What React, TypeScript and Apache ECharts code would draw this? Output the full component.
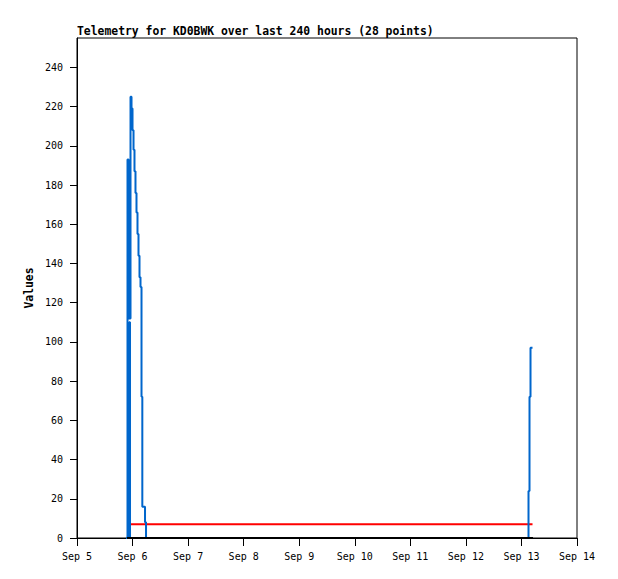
import React, { useEffect, useRef } from "react";
import * as echarts from "echarts";

// Telemetry channel (blue) — timestamps "MM-DD HH:MM" and values
const blueTimes = [
  "09-05 21:10", "09-05 21:49", "09-05 22:15", "09-05 23:07", "09-05 23:33",
  "09-05 23:59", "09-06 00:25", "09-06 00:50", "09-06 01:16", "09-06 01:42",
  "09-06 02:08", "09-06 02:34", "09-06 03:00", "09-06 03:26", "09-06 03:52",
  "09-06 04:13", "09-06 05:23", "09-06 05:49", "09-13 03:03", "09-13 03:29",
  "09-13 03:55", "09-13 04:47",
];
const blueValues = [
  0, 193, 112, 225, 219, 208, 198, 187, 176, 166, 155, 144, 133, 128, 72, 16, 8, 0,
  24, 72, 97, 97,
];

// Second blue channel (short burst)
const blue2Times = ["09-05 22:02", "09-05 22:28", "09-05 22:54"];
const blue2Values = [0, 110, 0];

// Red channel
const redTimes = ["09-05 22:41", "09-13 04:47"];
const redValues = [7, 7];

// Black channel
const blackTimes = ["09-05 21:36", "09-13 05:00"];
const blackValues = [0, 0];

const yTicks = [0, 20, 40, 60, 80, 100, 120, 140, 160, 180, 200, 220, 240];

const YEAR = 2023;
function toMs(s: string): number {
  const [md, hm] = s.split(" ");
  const [mo, d] = md.split("-").map(Number);
  const [h, m] = hm.split(":").map(Number);
  return new Date(YEAR, mo - 1, d, h, m).getTime();
}
function pairs(times: string[], values: number[]) {
  return times.map((t, i) => [toMs(t), values[i]]);
}

const MONO = "'DejaVu Sans Mono', monospace";

export default function App() {
  const ref = useRef<HTMLDivElement>(null);
  useEffect(() => {
    if (!ref.current) return;
    const chart = echarts.init(ref.current, undefined, { renderer: "svg" });
    const xMin = new Date(YEAR, 8, 5).getTime();
    const xMax = new Date(YEAR, 8, 14).getTime();
    chart.setOption({
      animation: false,
      backgroundColor: "#fff",
      title: {
        text: "Telemetry for KD0BWK over last 240 hours (28 points)",
        left: 77,
        top: 25,
        padding: 0,
        textStyle: { fontFamily: MONO, fontSize: 11.4, fontWeight: "bold", color: "#000" },
      },
      grid: {
        left: 77,
        right: 41,
        top: 38,
        bottom: 41,
        show: true,
        borderColor: "#000",
        borderWidth: 1,
        backgroundColor: "transparent",
      },
      xAxis: {
        type: "value",
        min: xMin,
        max: xMax,
        interval: 86400000,
        axisLine: { show: true, onZero: false, lineStyle: { color: "#000", width: 1 } },
        axisTick: { show: true, length: 8, lineStyle: { color: "#000" } },
        splitLine: { show: false },
        axisLabel: {
          margin: 13,
          fontFamily: MONO,
          fontSize: 10,
          color: "#000",
          formatter: (v: number) => `Sep ${new Date(v).getDate()}`,
        },
      },
      yAxis: {
        type: "value",
        min: 0,
        max: 255,
        interval: 20,
        name: "Values",
        nameLocation: "middle",
        nameRotate: 90,
        nameGap: 40,
        nameTextStyle: { fontFamily: MONO, fontSize: 11.4, fontWeight: "bold", color: "#000" },
        axisLine: { show: true, lineStyle: { color: "#000", width: 1 } },
        axisTick: { show: true, length: 7, customValues: yTicks, lineStyle: { color: "#000" } },
        splitLine: { show: false },
        axisLabel: {
          customValues: yTicks,
          margin: 14,
          fontFamily: MONO,
          fontSize: 10,
          color: "#000",
        },
      },
      series: [
        {
          type: "line",
          data: pairs(redTimes, redValues),
          step: "end",
          symbol: "none",
          lineStyle: { color: "#ff0000", width: 2 },
          z: 3,
        },
        {
          type: "line",
          data: pairs(blue2Times, blue2Values),
          step: "end",
          symbol: "none",
          lineStyle: { color: "#0066cc", width: 2 },
          z: 4,
        },
        {
          type: "line",
          data: pairs(blueTimes, blueValues),
          step: "end",
          symbol: "none",
          lineStyle: { color: "#0066cc", width: 2 },
          z: 5,
        },
        {
          type: "line",
          data: pairs(blackTimes, blackValues),
          step: "end",
          symbol: "none",
          lineStyle: { color: "#000", width: 2 },
          z: 6,
        },
      ],
    });
    return () => chart.dispose();
  }, []);
  return (
    <div
      ref={ref}
      style={{ position: "fixed", left: 0, top: 0, width: 618, height: 579 }}
    />
  );
}
